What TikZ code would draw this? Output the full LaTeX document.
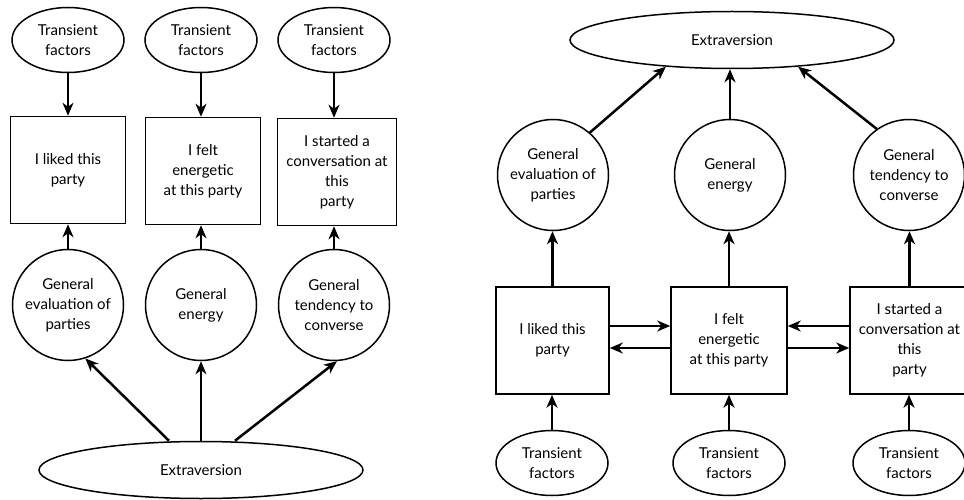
\documentclass[tikz,border=0pt]{standalone}
\usepackage{fontspec}
\setmainfont{Lato}
\usetikzlibrary{shapes.geometric,arrows.meta}

\begin{document}
\begin{tikzpicture}[x=1pt,y=-1pt,
  txt/.style={align=center,inner sep=0pt,font=\fontsize{15}{20}\selectfont},
  trans/.style={txt,ellipse,draw,line width=1.5pt,minimum width=112pt,minimum height=65pt},
  latent/.style={txt,circle,draw,line width=1.5pt,minimum size=111pt},
  item/.style={txt,rectangle,draw,line width=1.5pt,minimum width=115pt,minimum height=107pt},
  trait/.style={txt,ellipse,draw,line width=1.5pt,minimum width=324pt,minimum height=57pt},
  arr/.style={line width=2.5pt,-{Stealth[length=13pt,width=11pt,inset=4pt]}}
]
\useasboundingbox (0,0) rectangle (964,500);
\clip (0,0) rectangle (964,500);

% ---------- reflective model ----------
\node[trans] (lt1) at (68,40) {Transient\\factors};
\node[trans] (lt2) at (201,40) {Transient\\factors};
\node[trans] (lt3) at (334,40) {Transient\\factors};

\node[item] (lb1) at (68,170) {I liked this\\party};
\node[item] (lb2) at (203,171) {I felt\\energetic\\at this party};
\node[item,minimum width=119pt] (lb3) at (337,172) {I started a\\conversation at\\this\\party};

\node[latent] (lc1) at (68,305) {General\\evaluation of\\parties};
\node[latent] (lc2) at (201,305) {General\\energy};
\node[latent] (lc3) at (334,305) {General\\tendency to\\converse};

\node[trait] (lext) at (201,470) {Extraversion};

\foreach \i in {1,2,3}{
  \draw[arr] (lt\i.south) -- (lt\i.south |- lb\i.north);
  \draw[arr] (lc\i.north) -- (lc\i.north |- lb\i.south);
}
\draw[arr] ([xshift=-32pt]lext.north) -- (lc1.-72);
\draw[arr] (lext.north) -- (lc2.south);
\draw[arr] ([xshift=34pt]lext.north) -- (lc3.-87);

% ---------- formative model ----------
\node[trait] (rext) at (732,40) {Extraversion};

\node[latent] (rc1) at (553,175) {General\\evaluation of\\parties};
\node[latent] (rc2) at (730,175) {General\\energy};
\node[latent] (rc3) at (909,175) {General\\tendency to\\converse};

\node[item,minimum width=113pt] (rb1) at (552.5,340.5) {I liked this\\party};
\node[item,minimum width=116pt] (rb2) at (729,340.5) {I felt\\energetic\\at this party};
\node[item,minimum width=119pt] (rb3) at (909.5,340.5) {I started a\\conversation at\\this\\party};

\node[trans] (rt1) at (552,463) {Transient\\factors};
\node[trans] (rt2) at (729,463) {Transient\\factors};
\node[trans] (rt3) at (909,463) {Transient\\factors};

\foreach \i in {1,2,3}{
  \draw[arr] (rt\i.north) -- (rt\i.north |- rb\i.south);
  \draw[arr] (rb\i.north) -- (rb\i.north |- rc\i.south);
}
\draw[arr] (rc1.49) -- (rext.-158);
\draw[arr] (rc2.north) -- (rc2.north |- rext.south);
\draw[arr] (rc3.125) -- (rext.-22);

\draw[arr] ([yshift=14.5pt]rb1.east) -- ([yshift=14.5pt]rb2.west);
\draw[arr] ([yshift=-7.5pt]rb2.west) -- ([yshift=-7.5pt]rb1.east);
\draw[arr] ([yshift=14.5pt]rb3.west) -- ([yshift=14.5pt]rb2.east);
\draw[arr] ([yshift=-7.5pt]rb2.east) -- ([yshift=-7.5pt]rb3.west);
\end{tikzpicture}
\end{document}
